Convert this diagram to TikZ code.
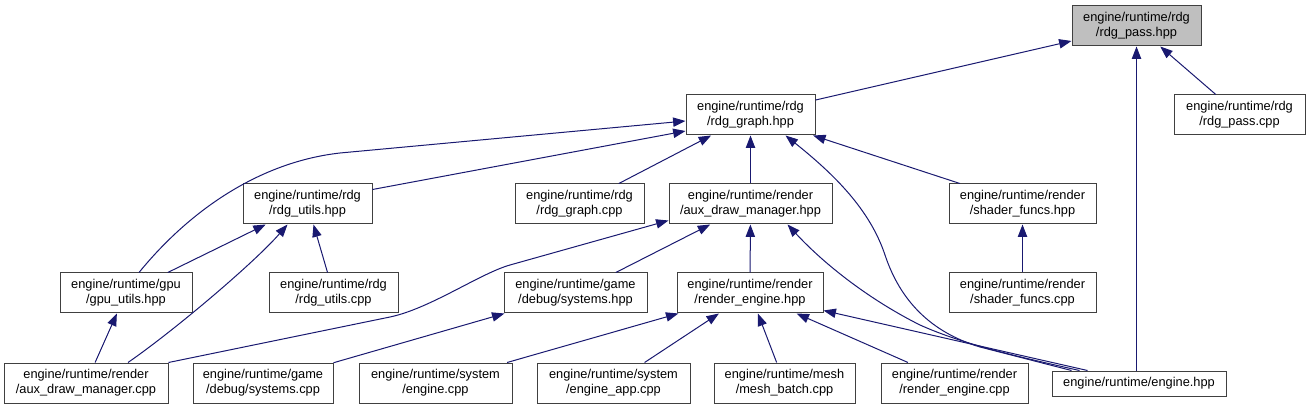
\documentclass[tikz,border=0pt]{standalone}
\usepackage{fontspec}
\setmainfont{Liberation Sans}
\usetikzlibrary{arrows.meta,calc}
\definecolor{navy}{HTML}{191970}
\definecolor{boxline}{HTML}{404040}
\definecolor{curfill}{HTML}{BFBFBF}
\tikzset{
  box/.style={draw=boxline, line width=0.75pt, rectangle, align=center, inner sep=0pt,
    minimum height=30pt, font=\fontsize{9.6pt}{11.25pt}\selectfont, text=black},
  bw/.style={minimum width=#1*0.75pt},
  dep/.style={draw=navy, line width=0.75pt, {Triangle[length=9.3pt,width=7pt]}-},
}
\begin{document}
\begin{tikzpicture}[x=0.75pt,y=-0.75pt]
\useasboundingbox (0,0) rectangle (1309,409);
% row 0
\node[box,bw=129,fill=curfill] (pass) at (1136.5,26) {engine/runtime/rdg\\/rdg\_pass.hpp};
% row 1
\node[box,bw=129] (graph) at (750.5,115) {engine/runtime/rdg\\/rdg\_graph.hpp};
\node[box,bw=131] (passcpp) at (1239.5,115) {engine/runtime/rdg\\/rdg\_pass.cpp};
% row 2
\node[box,bw=129] (utils) at (307.5,204) {engine/runtime/rdg\\/rdg\_utils.hpp};
\node[box,bw=129] (graphcpp) at (579.5,204) {engine/runtime/rdg\\/rdg\_graph.cpp};
\node[box,bw=163] (auxhpp) at (750.5,204) {engine/runtime/render\\/aux\_draw\_manager.hpp};
\node[box,bw=147] (shaderhpp) at (1022.5,204) {engine/runtime/render\\/shader\_funcs.hpp};
% row 3
\node[box,bw=132] (gpu) at (126,293) {engine/runtime/gpu\\/gpu\_utils.hpp};
\node[box,bw=129] (utilscpp) at (333.5,293) {engine/runtime/rdg\\/rdg\_utils.cpp};
\node[box,bw=143] (syshpp) at (575.5,293) {engine/runtime/game\\/debug/systems.hpp};
\node[box,bw=146] (rehpp) at (750,293) {engine/runtime/render\\/render\_engine.hpp};
\node[box,bw=147] (shadercpp) at (1022.5,293) {engine/runtime/render\\/shader\_funcs.cpp};
% row 4
\node[box,bw=164] (auxcpp) at (86,383) {engine/runtime/render\\/aux\_draw\_manager.cpp};
\node[box,bw=140] (syscpp) at (263,383) {engine/runtime/game\\/debug/systems.cpp};
\node[box,bw=153] (engcpp) at (435.5,383) {engine/runtime/system\\/engine.cpp};
\node[box,bw=153] (appcpp) at (613.5,383) {engine/runtime/system\\/engine\_app.cpp};
\node[box,bw=141] (meshcpp) at (784.5,383) {engine/runtime/mesh\\/mesh\_batch.cpp};
\node[box,bw=147] (recpp) at (954.5,383) {engine/runtime/render\\/render\_engine.cpp};
\node[box,bw=174,minimum height=18.75pt] (enghpp) at (1139,383.5) {engine/runtime/engine.hpp};

% edges to rdg_pass.hpp
\draw[dep] (pass) -- (graph);
\draw[dep] (pass) -- (passcpp);
\draw[dep] (pass.south) -- (pass.south |- enghpp.north);
% edges to rdg_graph.hpp
\draw[dep] ($(graph.west)+(0,16)$) -- ($(utils.north east)+(0,6)$);
\draw[dep] ($(graph.west)+(0,6)$) -- (340,153) .. controls (260,162) and (190,210) .. ($(gpu.north)+(13,0)$);
\draw[dep] (graph) -- (graphcpp);
\draw[dep] (graph) -- (auxhpp);
\draw[dep] (graph) -- (shaderhpp);
\draw[dep] ($(graph.south east)+(-30,0)$) .. controls (835,175) and (870,210) .. (885,255)
   .. controls (900,300) and (930,332) .. (980,347) -- ($(enghpp.north west)+(20,0)$);
% edges to rdg_utils.hpp
\draw[dep] (utils) -- (gpu);
\draw[dep] ($(utils.south)+(-20,0)$) .. controls (255,262) and (175,330) .. ($(auxcpp.north)+(42,0)$);
\draw[dep] (utils) -- (utilscpp);
% edges to aux_draw_manager.hpp
\draw[dep] ($(auxhpp.south west)+(0,-4)$) -- (510,265) .. controls (480,273.5) and (430,308.6) .. (390,317) -- (auxcpp.north east);
\draw[dep] (auxhpp) -- (syshpp);
\draw[dep] (auxhpp) -- (rehpp);
\draw[dep] ($(auxhpp.south east)+(-45,0)$) .. controls (825,265) and (870,300) .. (920,325)
   .. controls (960,343) and (1010,355) .. ($(enghpp.north west)+(28,0)$);
% shader funcs
\draw[dep] (shaderhpp) -- (shadercpp);
% gpu utils
\draw[dep] (gpu) -- (auxcpp);
% debug systems
\draw[dep] (syshpp) -- (syscpp);
% render_engine.hpp
\draw[dep] (rehpp) -- (engcpp);
\draw[dep] (rehpp) -- (appcpp);
\draw[dep] (rehpp) -- (meshcpp);
\draw[dep] (rehpp) -- (recpp);
\draw[dep] ($(rehpp.south east)+(0,-3)$) -- ($(enghpp.north west)+(36,0)$);
\end{tikzpicture}
\end{document}
